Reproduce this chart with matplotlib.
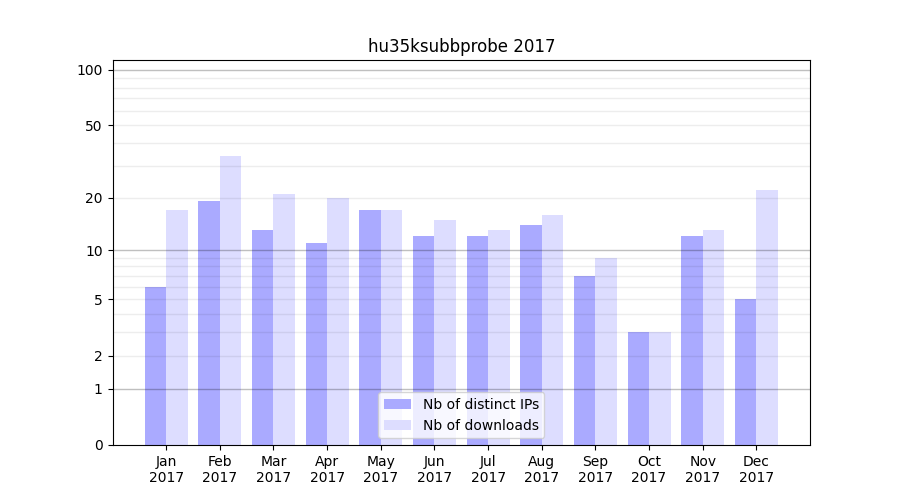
import numpy as np
import matplotlib
matplotlib.use('Agg')
import matplotlib.pyplot as plt

months = ['Jan', 'Feb', 'Mar', 'Apr', 'May', 'Jun', 'Jul', 'Aug', 'Sep', 'Oct', 'Nov', 'Dec']
year = '2017'
distinct_ips = [6, 19, 13, 11, 17, 12, 12, 14, 7, 3, 12, 5]
downloads = [17, 34, 21, 20, 17, 15, 13, 16, 9, 3, 13, 22]
ytick_values = [0, 1, 2, 5, 10, 20, 50, 100]


def forward(y):
    return np.log10(np.asarray(y) + 1.0)


def inverse(y):
    return 10.0 ** np.asarray(y) - 1.0


def draw_plot():
    fig, ax = plt.subplots(figsize=(9, 5), dpi=100)
    x = np.arange(1, len(months) + 1)

    ax.bar(x - 0.2, distinct_ips, width=0.4, color='#aaaaff', label='Nb of distinct IPs')
    ax.bar(x + 0.2, downloads, width=0.4, color='#ddddff', label='Nb of downloads')

    ax.set_yscale('function', functions=(forward, inverse))
    ax.set_ylim(0, 113)
    ax.set_xlim(0, 13)

    # grid: darker at decades, light in between
    for v in [1, 10, 100]:
        ax.axhline(v, color='black', alpha=0.25, linewidth=1, zorder=1.5)
    for d in [1, 10]:
        for k in range(2, 10):
            ax.axhline(k * d, color='black', alpha=0.07, linewidth=1, zorder=1.5)

    ax.set_yticks(ytick_values)
    ax.set_yticklabels([str(v) for v in ytick_values])
    ax.set_xticks(x)
    ax.set_xticklabels([f'{m}\n{year}' for m in months])

    ax.set_title('hu35ksubbprobe 2017')
    ax.legend(loc='lower center')

    fig.savefig('out.png')


def main():
    draw_plot()


if __name__ == '__main__':
    main()
